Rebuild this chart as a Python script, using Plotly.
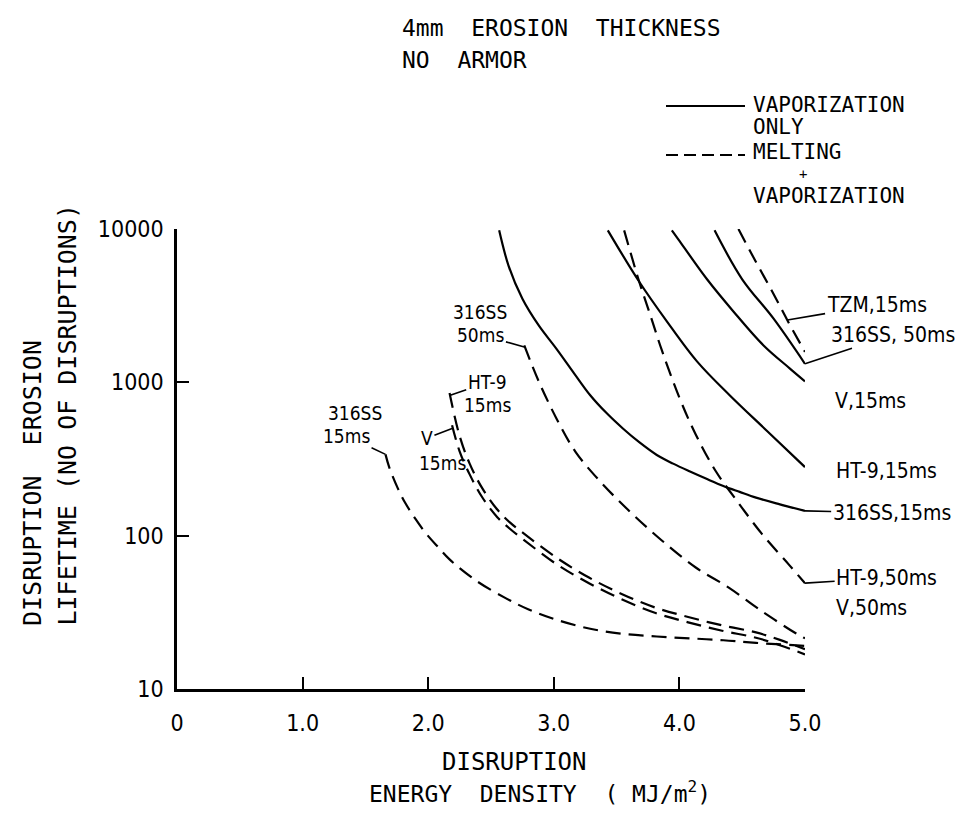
import numpy as np
import plotly.graph_objects as go

# ---------------- data (energy density MJ/m^2 , lifetime in disruptions) ----------------
# solid: vaporization only
ss15_vap_E = [2.565, 2.64, 2.75, 2.88, 3.02, 3.16, 3.29, 3.42, 3.55, 3.68, 3.82, 3.95, 4.08, 4.22, 4.35, 4.48, 4.61, 4.8, 5.0]
ss15_vap_N = [9800, 5750, 3510, 2350, 1660, 1150, 824, 630, 500, 407, 336, 295, 263, 234, 211, 193, 177, 160, 145]
ht15_vap_E = [3.43, 3.68, 3.90, 4.14, 4.40, 4.70, 5.0]
ht15_vap_N = [9800, 4530, 2500, 1370, 824, 480, 280]
v15_vap_E = [3.94, 3.99, 4.22, 4.43, 4.67, 4.88, 5.0]
v15_vap_N = [9800, 8600, 4700, 2900, 1740, 1230, 1015]
ss50_vap_E = [4.28, 4.5, 4.75, 5.0]
ss50_vap_N = [9800, 4700, 2600, 1320]

# dashed: melting + vaporization
tzm15_mv_E = [4.47, 4.6, 4.74, 4.87, 5.0]
tzm15_mv_N = [10000, 6300, 3900, 2450, 1580]
htv50_mv_E = [3.56, 3.68, 3.76, 3.86, 4.0, 4.13, 4.29, 4.45, 4.66, 4.87, 5.0]
htv50_mv_N = [9800, 4530, 2880, 1620, 794, 457, 263, 172, 102, 65, 49]
ss50_mv_E = [2.765, 2.88, 3.02, 3.17, 3.36, 3.6, 3.86, 4.13, 4.39, 4.66, 4.93, 5.0]
ss50_mv_N = [1740, 1015, 584, 355, 230, 145, 93, 62, 46, 32, 23, 21.4]
ht15_mv_E = [2.17, 2.25, 2.33, 2.43, 2.55, 2.65, 2.75, 3.02, 3.28, 3.54, 3.81, 4.07, 4.34, 4.61, 4.8, 5.0]
ht15_mv_N = [851, 447, 295, 204, 148, 122, 105, 72, 53.3, 41.7, 33.9, 29.5, 26, 23.4, 20.9, 18.2]
v15_mv_E = [2.19, 2.25, 2.33, 2.43, 2.55, 2.65, 2.75, 3.02, 3.28, 3.54, 3.81, 4.07, 4.34, 4.61, 4.8, 5.0]
v15_mv_N = [525, 355, 251, 178, 132, 111, 95.5, 65.3, 49, 38.5, 31.3, 27.2, 24, 21.6, 19.3, 16.8]
ss15_mv_E = [1.66, 1.69, 1.76, 1.82, 1.90, 1.98, 2.08, 2.17, 2.38, 2.62, 2.8, 3.02, 3.29, 3.55, 3.82, 4.08, 4.35, 4.61, 5.0]
ss15_mv_N = [339, 279, 202, 162, 128, 104, 84, 70, 51, 39, 33, 28.3, 24.7, 22.9, 22.0, 21.4, 20.8, 20.0, 19.1]

x_tick_vals = [0, 1, 2, 3, 4, 5]
x_tick_text = ["0", "1.0", "2.0", "3.0", "4.0", "5.0"]
y_tick_vals = [10, 100, 1000, 10000]
y_tick_text = ["10", "100", "1000", "10000"]

# curve labels: (text, E, N, leader-to E, leader-to N, big)
curve_labels = [
    ("TZM,15ms", 5.57, 3200, 4.86, 2550, True),
    ("316SS, 50ms", 5.70, 2040, 5.0, 1320, True),
    ("V,15ms", 5.52, 760, None, None, True),
    ("HT-9,15ms", 5.65, 263, None, None, True),
    ("316SS,15ms", 5.69, 141, 5.0, 145, True),
    ("HT-9,50ms", 5.65, 53, 5.0, 49, True),
    ("V,50ms", 5.53, 34, None, None, True),
    ("316SS", 1.42, 630, None, None, False),
    ("15ms", 1.35, 447, 1.66, 339, False),
    ("V", 1.99, 433, 2.19, 500, False),
    ("15ms", 2.11, 298, None, None, False),
    ("HT-9", 2.47, 1000, 2.17, 820, False),
    ("15ms", 2.47, 708, None, None, False),
    ("316SS", 2.41, 2880, None, None, False),
    ("50ms", 2.42, 2040, 2.765, 1700, False),
]

LINE_W = 2.2
DASH = "15px,8px"
X_MAX = 5.0

fig = go.Figure()
solid = [(ss15_vap_E, ss15_vap_N), (ht15_vap_E, ht15_vap_N), (v15_vap_E, v15_vap_N), (ss50_vap_E, ss50_vap_N)]
dashed = [(tzm15_mv_E, tzm15_mv_N), (htv50_mv_E, htv50_mv_N), (ss50_mv_E, ss50_mv_N),
          (ht15_mv_E, ht15_mv_N), (v15_mv_E, v15_mv_N), (ss15_mv_E, ss15_mv_N)]
for E, N in solid:
    fig.add_trace(go.Scatter(x=E, y=N, mode="lines", showlegend=False, hoverinfo="skip",
                             line=dict(color="black", width=LINE_W, shape="spline", smoothing=1.0)))
for E, N in dashed:
    fig.add_trace(go.Scatter(x=E, y=N, mode="lines", showlegend=False, hoverinfo="skip",
                             line=dict(color="black", width=LINE_W, dash=DASH, shape="spline", smoothing=1.0)))

SANS = "DejaVu Sans Condensed, DejaVu Sans"
TICKFONT = dict(family=SANS, size=23, color="black")
LABFONT = dict(family=SANS, size=21, color="black")
LABFONT_S = dict(family=SANS, size=19, color="black")
MONO = "DejaVu Sans Mono"

L, R, T, B = 169, 166, 221, 133
W, H = 963, 814
PW, PH = W - L - R, H - T - B


def px(xp):
    return (xp - L) / PW


def py(yp):
    return (H - B - yp) / PH


fig.update_layout(
    width=W, height=H,
    margin=dict(l=L, r=R, t=T, b=B, autoexpand=False),
    paper_bgcolor="white", plot_bgcolor="white",
    xaxis=dict(range=[0, X_MAX], tickvals=x_tick_vals, ticktext=x_tick_text, showgrid=False, zeroline=False,
               showline=True, linecolor="black", linewidth=2.5, ticks="inside", ticklen=12, tickwidth=2,
               tickcolor="black", tickfont=TICKFONT, ticklabelstandoff=12),
    yaxis=dict(type="log", range=[1, 4], tickvals=y_tick_vals, ticktext=y_tick_text, showgrid=False,
               zeroline=False, showline=True, linecolor="black", linewidth=2.5, ticks="inside", ticklen=12,
               tickwidth=2, tickcolor="black", tickfont=TICKFONT, ticklabelstandoff=6),
)

ann = []
for t, e, n, e1, n1, big in curve_labels:
    f = LABFONT if big else LABFONT_S
    if e1 is None:
        # labels beyond the axis range are placed in paper x so they stay visible
        ann.append(dict(x=e / X_MAX, y=np.log10(n), xref="paper", yref="y", text=t, showarrow=False, font=f,
                        xanchor="center", yanchor="middle"))
    else:
        ann.append(dict(x=e1, y=np.log10(n1), ax=e, ay=np.log10(n), xref="x", yref="y", axref="x", ayref="y",
                        text=t, font=f, xanchor="center", yanchor="middle", showarrow=True, arrowhead=0,
                        arrowwidth=1.6, arrowcolor="black", standoff=0, startstandoff=0))


def text_at(t, x, y, size, anchor="left", angle=0, yanchor="middle"):
    ann.append(dict(x=px(x), y=py(y), xref="paper", yref="paper", text=t, showarrow=False,
                    font=dict(family=MONO, size=size, color="black"), xanchor=anchor, yanchor=yanchor,
                    textangle=angle))


# titles
text_at("4mm  EROSION  THICKNESS", 392, 20, 23)
text_at("NO  ARMOR", 392, 52, 23)
# legend text
text_at("VAPORIZATION", 743, 97, 21)
text_at("ONLY", 743, 119, 21)
text_at("MELTING", 743, 144, 21)
text_at("+", 795, 166, 14, anchor="center")
text_at("VAPORIZATION", 743, 188, 21)
# axis titles
text_at("DISRUPTION  EROSION", 24, 620, 25, anchor="center", angle=-90, yanchor="bottom")
text_at("LIFETIME (NO OF DISRUPTIONS)", 59, 620, 25, anchor="center", angle=-90, yanchor="bottom")
text_at("DISRUPTION", 506, 754, 24, anchor="center")
text_at("ENERGY  DENSITY  ( MJ/m<sup>2</sup>)", 532, 784, 23, anchor="center")
fig.update_layout(annotations=ann)

# legend sample lines
fig.add_shape(type="line", xref="paper", yref="paper", x0=px(658), x1=px(737), y0=py(98), y1=py(98),
              line=dict(color="black", width=2.2))
fig.add_shape(type="line", xref="paper", yref="paper", x0=px(658), x1=px(737), y0=py(147), y1=py(147),
              line=dict(color="black", width=2.2, dash="12px,6px"))

fig.write_html("out.html")
